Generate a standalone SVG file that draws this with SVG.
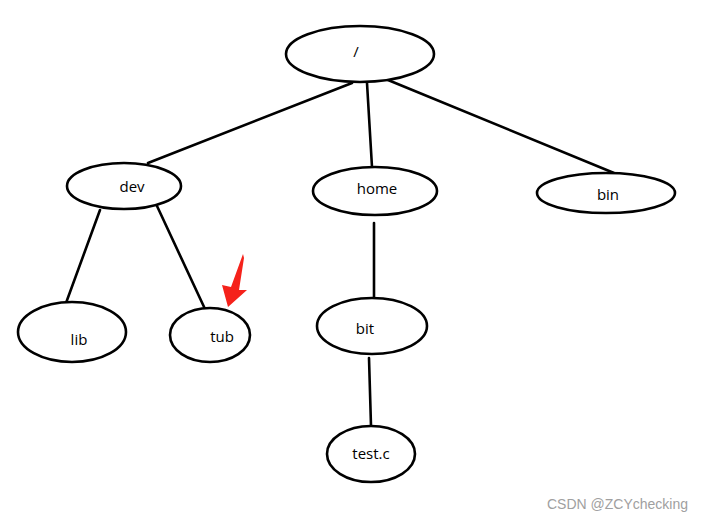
<svg xmlns="http://www.w3.org/2000/svg" width="703" height="523" viewBox="0 0 703 523">
<style>
.n ellipse{fill:#fff;stroke:#000;stroke-width:2.6}
.n text{font-family:"Open Sans","Noto Sans",sans-serif;font-size:15px;fill:#000;text-anchor:middle}
#edges line{stroke:#000;stroke-width:2.6;stroke-linecap:round}
</style>
<rect width="703" height="523" fill="#fff"/>
<g id="edges">
<line x1="352" y1="83" x2="148" y2="163"/>
<line x1="367" y1="83" x2="372" y2="167"/>
<line x1="388" y1="80" x2="614" y2="173"/>
<line x1="100" y1="210" x2="66" y2="303"/>
<line x1="157" y1="206" x2="205" y2="309"/>
<line x1="374" y1="223" x2="374" y2="297"/>
<line x1="369" y1="358" x2="371" y2="426"/>
</g>
<g id="root" class="n"><ellipse cx="360" cy="54" rx="74" ry="28"/><text x="356" y="57">/</text></g>
<g id="dev" class="n"><ellipse cx="124" cy="186" rx="57" ry="23"/><text x="132" y="192">dev</text></g>
<g id="home" class="n"><ellipse cx="375" cy="191" rx="62" ry="24"/><text x="377" y="194">home</text></g>
<g id="bin" class="n"><ellipse cx="606" cy="193" rx="69" ry="20"/><text x="608" y="200">bin</text></g>
<g id="lib" class="n"><ellipse cx="72" cy="332" rx="54" ry="30"/><text x="79" y="345">lib</text></g>
<g id="tub" class="n"><ellipse cx="210" cy="335" rx="40" ry="27"/><text x="222" y="342">tub</text></g>
<g id="bit" class="n"><ellipse cx="372" cy="326" rx="55" ry="28"/><text x="365" y="334">bit</text></g>
<g id="testc" class="n"><ellipse cx="371" cy="454" rx="44" ry="28"/><text x="371" y="459">test.c</text></g>
<polygon points="243,254 231,287 222,285 228,307 247,290 239,290 244,258" fill="#f5221b"/>
<text x="688" y="509" text-anchor="end" font-family="'Liberation Sans',Arial,sans-serif" font-size="14" fill="#a0a0a0">CSDN @ZCYchecking</text>
</svg>
